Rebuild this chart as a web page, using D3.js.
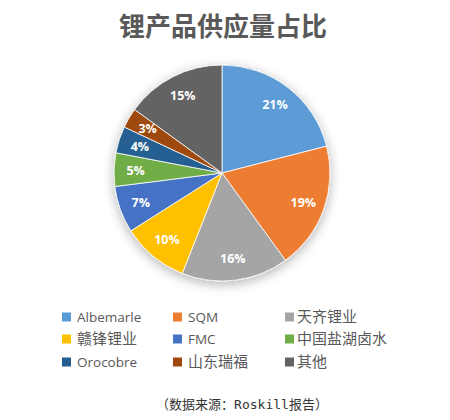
<!DOCTYPE html>
<html>
<head>
<meta charset="utf-8">
<script src="https://cdn.jsdelivr.net/npm/d3@7"></script>
<style>
  body { margin: 0; background: #fff; }
</style>
</head>
<body>
<svg id="chart" width="450" height="420"></svg>
<script>
const categories = ['Albemarle', 'SQM', '天齐锂业', '赣锋锂业', 'FMC', '中国盐湖卤水', 'Orocobre', '山东瑞福', '其他']
const shares = [21, 19, 16, 10, 7, 5, 4, 3, 15]
const colors = ['#5B9BD5', '#ED7D31', '#A5A5A5', '#FFC000', '#4472C4', '#70AD47', '#255E91', '#9E480E', '#636363']

const svg = d3.select('#chart')
const cx = 222
const cy = 173
const radius = 108
const textColor = '#595959'

// soft shadow under the pie
const defs = svg.append('defs')
const filter = defs.append('filter').attr('id', 'shadow')
  .attr('x', '-30%').attr('y', '-30%').attr('width', '160%').attr('height', '160%')
filter.append('feGaussianBlur').attr('in', 'SourceAlpha').attr('stdDeviation', 6)
filter.append('feOffset').attr('dx', 0).attr('dy', 3).attr('result', 'blur')
filter.append('feComponentTransfer').append('feFuncA').attr('type', 'linear').attr('slope', 0.3)
const merge = filter.append('feMerge')
merge.append('feMergeNode')
merge.append('feMergeNode').attr('in', 'SourceGraphic')

// title
svg.append('text')
  .attr('x', 223)
  .attr('y', 36)
  .attr('text-anchor', 'middle')
  .style('font-family', '"Noto Sans CJK SC", sans-serif')
  .style('font-weight', 'bold')
  .style('font-size', '26px')
  .style('fill', textColor)
  .text('锂产品供应量占比')

const pie = d3.pie().sort(null).value(d => d)
const arcs = pie(shares)
const arc = d3.arc().innerRadius(0).outerRadius(radius)

const g = svg.append('g').attr('transform', `translate(${cx}, ${cy})`)

g.append('g').attr('filter', 'url(#shadow)')
  .selectAll('path')
  .data(arcs)
  .enter()
  .append('path')
  .attr('d', arc)
  .attr('fill', (d, i) => colors[i])
  .attr('stroke', '#fff')
  .attr('stroke-width', 0.8)

// percentage labels
const labelArc = d3.arc().innerRadius(radius * 0.8).outerRadius(radius * 0.8)
g.selectAll('.pct')
  .data(arcs)
  .enter()
  .append('text')
  .attr('class', 'pct')
  .attr('transform', d => `translate(${labelArc.centroid(d)})`)
  .attr('text-anchor', 'middle')
  .attr('dy', '0.35em')
  .style('font-family', '"Open Sans", sans-serif')
  .style('font-weight', 'bold')
  .style('font-size', '12.5px')
  .style('fill', '#fff')
  .text(d => d.data + '%')

// legend
const colX = [62, 173, 285]
const rowY = [317, 339, 362]
const isCJK = s => /[\u4e00-\u9fff]/.test(s)
const legend = svg.selectAll('.legend')
  .data(categories)
  .enter()
  .append('g')
  .attr('class', 'legend')
  .attr('transform', (d, i) => `translate(${colX[i % 3]}, ${rowY[Math.floor(i / 3)]})`)

legend.append('rect')
  .attr('x', 0).attr('y', -4.5)
  .attr('width', 9).attr('height', 9)
  .attr('fill', (d, i) => colors[i])

legend.append('text')
  .attr('x', (d, i) => i % 3 === 2 ? 12 : 15)
  .attr('dy', '0.36em')
  .style('font-family', '"Open Sans", "Noto Sans CJK SC", sans-serif')
  .style('font-size', d => isCJK(d) ? '15px' : '13.5px')
  .style('fill', textColor)
  .text(d => d)

// source note
svg.append('text')
  .attr('x', 242)
  .attr('y', 409)
  .attr('text-anchor', 'middle')
  .style('font-family', '"DejaVu Sans Mono", "Noto Sans CJK SC", monospace')
  .style('font-size', '13px')
  .style('fill', '#333')
  .text('（数据来源：Roskill报告）')
</script>
</body>
</html>
